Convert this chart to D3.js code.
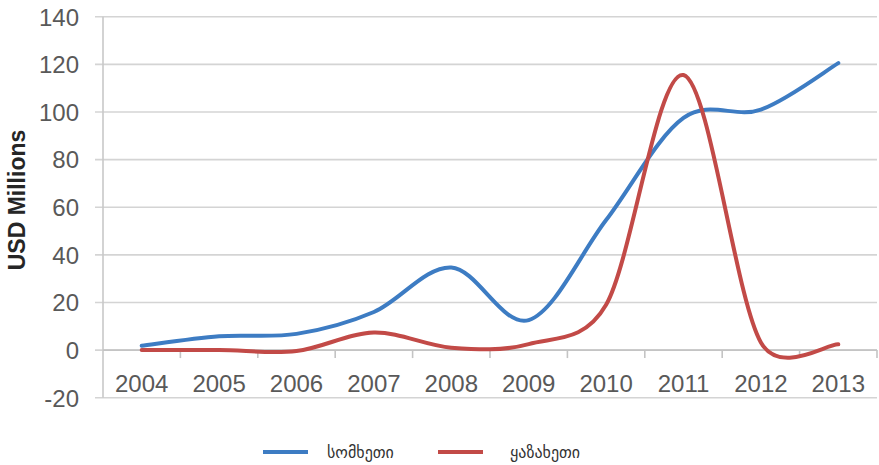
<!DOCTYPE html>
<html>
<head>
<meta charset="utf-8">
<script src="https://cdn.jsdelivr.net/npm/d3@7"></script>
<style>
  html, body { margin: 0; padding: 0; background: #ffffff; }
  svg { display: block; }
</style>
</head>
<body>
<svg id="chart" width="879" height="465"></svg>
<script>
// ---- data ----
const years = ["2004","2005","2006","2007","2008","2009","2010","2011","2012","2013"];
const armenia = [1.8, 5.8, 6.8, 16.0, 34.7, 12.6, 54.6, 97.5, 101.0, 120.5];
const kazakhstan = [0, 0, -0.4, 7.4, 1.0, 2.5, 19.0, 115.5, 3.2, 2.4];
const yTicks = [-20, 0, 20, 40, 60, 80, 100, 120, 140];
const seriesNames = ["სომხეთი", "ყაზახეთი"];
const seriesColors = ["#3d7cc3", "#c24a47"];
const yTitle = "USD Millions";

// ---- layout ----
const svg = d3.select("#chart");
const plotLeft = 103, plotRight = 877, plotTop = 16.7, plotBottom = 397.7;

const x = d3.scaleBand().domain(years).range([plotLeft, plotRight]).padding(0);
const y = d3.scaleLinear().domain([-20, 140]).range([plotBottom, plotTop]);
const cx = d => x(d) + x.bandwidth() / 2;

const axisColor = "#c8c8c8";
const textColor = "#595959";

// Excel-style smoothed curve (Bezier with capped control points)
function excelSmooth(context) {
  let pts = [];
  const dist = (a, b) => Math.hypot(b[0] - a[0], b[1] - a[1]);
  return {
    areaStart() {}, areaEnd() {},
    lineStart() { pts = []; },
    point(px, py) { pts.push([+px, +py]); },
    lineEnd() {
      const n = pts.length;
      if (!n) return;
      context.moveTo(pts[0][0], pts[0][1]);
      for (let i = 0; i < n - 1; i++) {
        const p0 = pts[Math.max(i - 1, 0)], p1 = pts[i], p2 = pts[i + 1], p3 = pts[Math.min(i + 2, n - 1)];
        const d12 = dist(p1, p2), d02 = dist(p0, p2), d13 = dist(p1, p3);
        let f1 = 1 / 6, f2 = 1 / 6;
        if (d02 / 6 > d12 / 2) f1 = d12 / (2 * d02);
        if (d13 / 6 > d12 / 2) f2 = d12 / (2 * d13);
        const c1 = [p1[0] + (p2[0] - p0[0]) * f1, p1[1] + (p2[1] - p0[1]) * f1];
        const c2 = [p2[0] - (p3[0] - p1[0]) * f2, p2[1] - (p3[1] - p1[1]) * f2];
        context.bezierCurveTo(c1[0], c1[1], c2[0], c2[1], p2[0], p2[1]);
      }
    }
  };
}

// gridlines
svg.append("g").selectAll("line").data(yTicks).join("line")
  .attr("x1", plotLeft - 8).attr("x2", plotRight)
  .attr("y1", d => y(d)).attr("y2", d => y(d))
  .attr("stroke", "#d4d4d4").attr("stroke-width", 1.6);

// y axis line
svg.append("line")
  .attr("x1", plotLeft).attr("x2", plotLeft).attr("y1", y(140)).attr("y2", y(-20))
  .attr("stroke", axisColor).attr("stroke-width", 1.6);

// y tick labels
const yAxis = d3.axisLeft(y).tickValues(yTicks).tickSize(0).tickPadding(0).tickFormat(d => String(d));
const gy = svg.append("g").attr("transform", `translate(${plotLeft - 24},0)`).call(yAxis);
gy.select(".domain").remove();
gy.selectAll("text")
  .attr("fill", textColor)
  .style("font-family", "'Liberation Sans', Arial, sans-serif")
  .style("font-size", "24px")
  .attr("dy", "0.35em");

// x axis at zero with ticks at category boundaries
svg.append("line")
  .attr("x1", plotLeft).attr("x2", plotRight).attr("y1", y(0)).attr("y2", y(0))
  .attr("stroke", "#c4c4c4").attr("stroke-width", 1.6);
const boundaries = years.map(d => x(d)).slice(1).concat([plotRight]);
svg.append("g").selectAll("line").data(boundaries).join("line")
  .attr("x1", d => d).attr("x2", d => d)
  .attr("y1", y(0)).attr("y2", y(0) + 8)
  .attr("stroke", "#c4c4c4").attr("stroke-width", 1.6);

const xAxis = d3.axisBottom(x).tickSize(0).tickPadding(0);
const gx = svg.append("g").attr("transform", `translate(0,${y(0)})`).call(xAxis);
gx.select(".domain").remove();
gx.selectAll("text")
  .attr("fill", textColor)
  .attr("y", 42)
  .attr("dy", 0)
  .style("font-family", "'Liberation Sans', Arial, sans-serif")
  .style("font-size", "24px");

// y title
svg.append("text")
  .attr("transform", `translate(25,200) rotate(-90)`)
  .attr("text-anchor", "middle")
  .attr("fill", "#262626")
  .style("font-family", "'Liberation Sans', Arial, sans-serif")
  .style("font-weight", "bold")
  .style("font-size", "23px")
  .text(yTitle);

// lines
const line = d3.line()
  .x((d, i) => cx(years[i]))
  .y(d => y(d))
  .curve(excelSmooth);

[armenia, kazakhstan].forEach((vals, k) => {
  svg.append("path")
    .datum(vals)
    .attr("d", line)
    .attr("fill", "none")
    .attr("stroke", seriesColors[k])
    .attr("stroke-width", 4)
    .attr("stroke-linejoin", "round")
    .attr("stroke-linecap", "round");
});

// legend
const legendItems = [
  { lx: 263, tx: 327 },
  { lx: 438, tx: 510 }
];
const ly = 452;
legendItems.forEach((it, k) => {
  svg.append("line")
    .attr("x1", it.lx).attr("x2", it.lx + 45)
    .attr("y1", ly).attr("y2", ly)
    .attr("stroke", seriesColors[k]).attr("stroke-width", 4);
  svg.append("text")
    .attr("x", it.tx).attr("y", ly)
    .attr("dy", "0.35em")
    .attr("fill", "#333333")
    .style("font-family", "'DejaVu Sans', sans-serif")
    .style("font-size", "16px")
    .text(seriesNames[k]);
});
</script>
</body>
</html>
